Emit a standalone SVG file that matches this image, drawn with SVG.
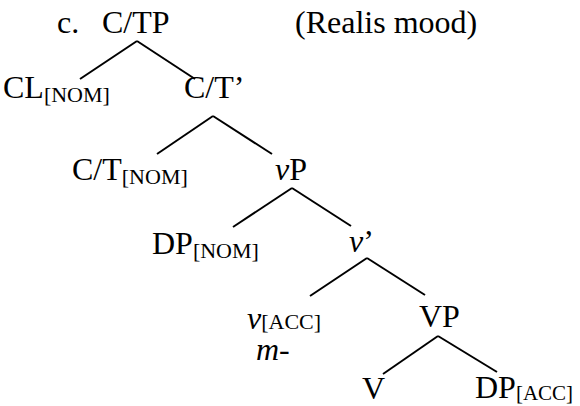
<svg xmlns="http://www.w3.org/2000/svg" width="580" height="406" viewBox="0 0 580 406">
<style>
text{font-family:"Liberation Serif","Times New Roman",serif;font-size:32px;fill:#000}
.s{font-size:22px}
.i{font-style:italic}
line{stroke:#000;stroke-width:2}
</style>
<rect width="580" height="406" fill="#fff"/>
<g id="connectors">
<line x1="137" y1="41" x2="80" y2="79"/>
<line x1="137" y1="41" x2="195" y2="79"/>
<line x1="213" y1="116" x2="157" y2="154"/>
<line x1="213" y1="116" x2="272" y2="154"/>
<line x1="292" y1="188" x2="233" y2="227"/>
<line x1="292" y1="188" x2="351" y2="226"/>
<line x1="367" y1="258" x2="310" y2="296"/>
<line x1="367" y1="258" x2="425" y2="295"/>
<line x1="438" y1="336" x2="383" y2="374"/>
<line x1="438" y1="336" x2="497" y2="372"/>
</g>
<g id="label-c"><text x="57" y="33">c.</text></g>
<g id="CTP"><text x="102" y="33">C/TP</text></g>
<g id="realis"><text x="295" y="33">(Realis mood)</text></g>
<g id="CL"><text x="3" y="98">CL<tspan class="s" dy="4">[NOM]</tspan></text></g>
<g id="CTbar"><text x="184" y="98">C/T’</text></g>
<g id="CT"><text x="72" y="180">C/T<tspan class="s" dy="4">[NOM]</tspan></text></g>
<g id="vP"><text x="275" y="180"><tspan class="i">v</tspan>P</text></g>
<g id="DPnom"><text x="152" y="254">DP<tspan class="s" dy="4">[NOM]</tspan></text></g>
<g id="vbar"><text x="349" y="252"><tspan class="i">v</tspan>’</text></g>
<g id="v"><text x="247" y="329"><tspan class="i">v</tspan><tspan class="s">[ACC]</tspan></text><text class="i" x="256" y="360">m-</text></g>
<g id="VP"><text x="419" y="327">VP</text></g>
<g id="V"><text x="362" y="399">V</text></g>
<g id="DPacc"><text x="475" y="398">DP<tspan class="s" dy="2" style="font-size:21px">[ACC]</tspan></text></g>
</svg>
